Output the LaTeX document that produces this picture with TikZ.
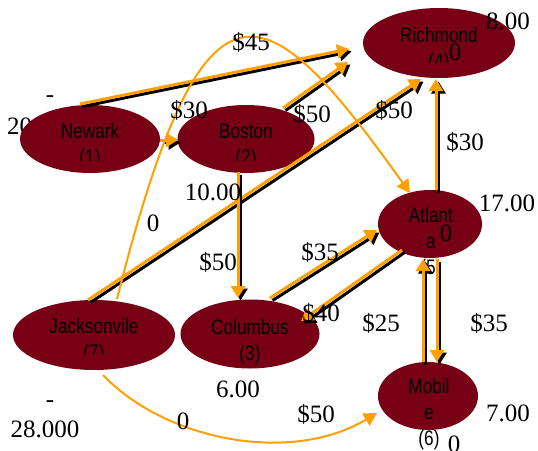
\documentclass[tikz,border=0pt]{standalone}
\usepackage{fontspec}
\setmainfont{Liberation Serif}
\newfontfamily\nf[FakeStretch=0.82]{Liberation Sans}
\usetikzlibrary{arrows.meta,calc,shapes.geometric}
\definecolor{nodered}{RGB}{120,0,20}
\definecolor{arrorange}{RGB}{255,160,0}
\tikzset{
  city/.style={ellipse, fill=nodered, draw=none, inner sep=0pt},
  ntext/.style={font=\nf\fontsize{21}{26}\selectfont, align=center, inner sep=0pt, text=black},
  lbl/.style={font=\fontsize{25}{25}\selectfont, inner sep=0pt, text height=17pt, text depth=0pt, text=black},
  shadeline/.style={draw=black, line width=3pt, -{Triangle[length=12pt,width=14pt]},
    transform canvas={shift={(2.5pt,-2.5pt)}}},
  mainline/.style={draw=arrorange, line width=3pt, -{Triangle[length=12pt,width=14pt]}},
  thinline/.style={draw=arrorange, line width=2pt, -{Triangle[length=13pt,width=14pt]}},
}
\newcommand\twin[2]{\draw[shadeline] #1 -- #2; \draw[mainline] #1 -- #2;}
\begin{document}
\begin{tikzpicture}[x=1pt,y=-1pt]
\useasboundingbox (0,0) rectangle (538,450);
% label partly hidden behind Newark
\node[lbl, anchor=west] (l20) at (7,126) {20};
% cities
\node[city, minimum width=140pt, minimum height=68pt] (newark) at (90,139) {};
\node[city, minimum width=137pt, minimum height=68pt] (boston) at (246,139) {};
\node[city, minimum width=152pt, minimum height=70pt] (richmond) at (439,43) {};
\node[city, minimum width=162pt, minimum height=70pt] (jax) at (94,335) {};
\node[city, minimum width=139pt, minimum height=69pt] (columbus) at (250,334) {};
\node[city, minimum width=104pt, minimum height=68pt] (atlanta) at (430,224) {};
\node[city, minimum width=100pt, minimum height=68pt] (mobile) at (428,396) {};
% city texts
\begin{scope}
\clip ($(newark)+(-70,-40)$) rectangle ($(newark)+(70,21)$);
\node[ntext] (newarkt) at ($(newark)+(0,7)$) {Newark\\(1)};
\end{scope}
\begin{scope}
\clip ($(boston)+(-70,-40)$) rectangle ($(boston)+(70,21)$);
\node[ntext] (bostont) at ($(boston)+(0,7)$) {Boston\\(2)};
\end{scope}
\begin{scope}
\clip ($(richmond)+(-80,-40)$) rectangle ($(richmond)+(80,19)$);
\node[ntext] (richmondt) at ($(richmond)+(0,7)$) {Richmond\\(4)};
\end{scope}
\begin{scope}
\clip ($(jax)+(-85,-40)$) rectangle ($(jax)+(85,18)$);
\node[ntext] (jaxt) at ($(jax)+(0,6)$) {Jacksonvile\\(7)};
\end{scope}
\node[ntext] (columbust) at ($(columbus)+(0,8)$) {Columbus\\(3)};
\node[ntext] (atlantat) at ($(atlanta)+(1,19)$) {Atlant\\a\\(5)};
\node[ntext] (mobilet) at ($(mobile)+(1,18)$) {Mobil\\e\\(6)};
% connectors
\twin{($(newark)+(-10,-35)$)}{($(richmond)+(-90,6)$)}
\twin{($(boston)+(37,-31)$)}{($(richmond)+(-91,19)$)}
\twin{($(jax)+(-6,-35)$)}{($(richmond)+(-18,36)$)}
\twin{($(newark)+(70,1)$)}{($(boston)+(-68,1)$)}
\twin{($(boston)+(-8,33)$)}{($(columbus)+(-12,-36)$)}
\twin{($(columbus)+(20,-36)$)}{($(atlanta)+(-53,6)$)}
\twin{($(atlanta)+(-28,26)$)}{($(columbus)+(51,-13)$)}
\twin{($(atlanta)+(6,-34)$)}{($(richmond)+(-3,36)$)}
\twin{($(atlanta)+(7,35)$)}{($(mobile)+(9,-34)$)}
\twin{($(mobile)+(-5,-34)$)}{($(atlanta)+(-7,35)$)}
\draw[thinline] ($(jax)+(9,40)$) .. controls (165,440) and (290,465) .. ($(mobile)+(-51,17)$);
\draw[thinline] ($(jax)+(23,-36)$) .. controls (205,-50) and (265,-10) .. ($(atlanta)+(-20,-31)$);
% labels
\node[lbl] (m1) at (50,94) {-};
\node[lbl] (c30a) at (189,110) {\$30};
\node[lbl] (c45) at (251,42) {\$45};
\node[lbl] (c50a) at (312,114) {\$50};
\node[lbl] (c50b) at (394,110) {\$50};
\node[lbl] (s8) at (508,21) {8.00};
\node[lbl] (z4) at (455,52) {0};
\node[lbl] (c30b) at (465,142) {\$30};
\node[lbl] (s17) at (507,203) {17.00};
\node[lbl] (z5) at (446,233) {0};
\node[lbl] (c35a) at (320,252) {\$35};
\node[lbl] (c40) at (321,313) {\$40};
\node[lbl] (c25) at (381,323) {\$25};
\node[lbl] (c35b) at (489,323) {\$35};
\node[lbl] (c50c) at (218,262) {\$50};
\node[lbl] (s10) at (213,192) {10.00};
\node[lbl] (z0a) at (153,223) {0};
\node[lbl] (s6) at (238,389) {6.00};
\node[lbl] (m2) at (50,399) {-};
\node[lbl] (s28) at (45,429) {28.000};
\node[lbl] (z0b) at (183,421) {0};
\node[lbl] (c50d) at (316,414) {\$50};
\node[lbl] (s7) at (508,413) {7.00};
\node[lbl] (z6) at (454,444) {0};
\end{tikzpicture}
\end{document}
